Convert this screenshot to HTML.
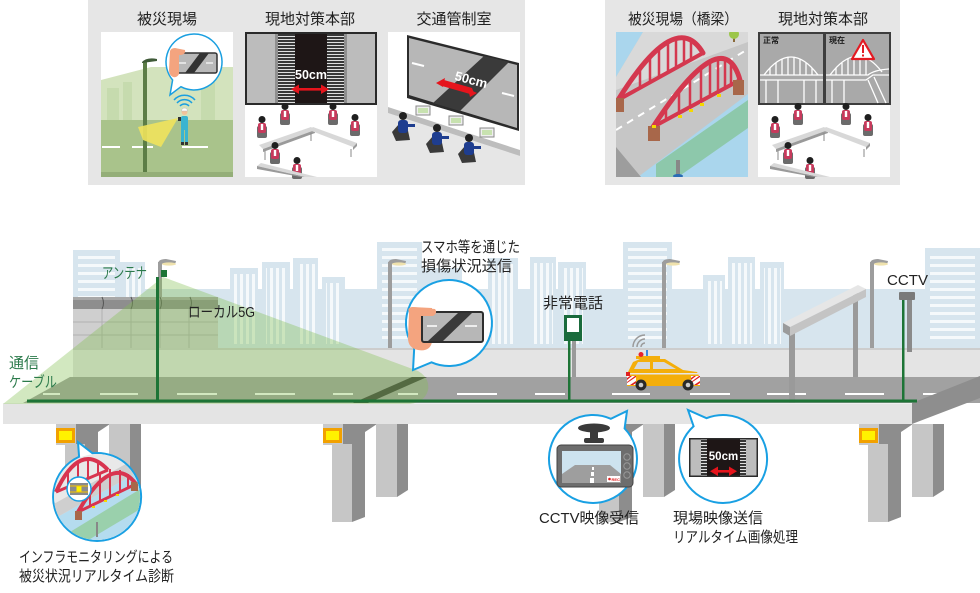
<!DOCTYPE html>
<html><head><meta charset="utf-8">
<style>
html,body{margin:0;padding:0;background:#fff;width:980px;height:593px;overflow:hidden}
svg{display:block}
text{font-family:"Liberation Sans","Noto Sans CJK JP",sans-serif}
</style></head><body>
<svg xmlns="http://www.w3.org/2000/svg" width="980" height="593" viewBox="0 0 980 593">
<defs>
<pattern id="hs" width="8" height="8" patternUnits="userSpaceOnUse"><rect width="8" height="3" fill="#f5f9fb"/></pattern>
<pattern id="vs" width="6" height="6" patternUnits="userSpaceOnUse"><rect width="3" height="6" fill="#f5f9fb"/></pattern>
<pattern id="tk" width="4" height="3" patternUnits="userSpaceOnUse"><rect width="4" height="3" fill="#383838"/><rect y="1" width="4" height="1" fill="#e0e0e0"/></pattern>
<clipPath id="cInfra"><circle cx="97" cy="497" r="43"/></clipPath>
<clipPath id="cA"><rect x="0" y="0" width="132" height="145"/></clipPath>
<g id="per">
<rect x="-5" y="-1" width="10" height="12" rx="2" fill="#6b6b6b"/>
<rect x="-4" y="-4" width="8" height="10" rx="2" fill="#c73a5c"/>
<rect x="-1.2" y="-3" width="2.4" height="6" fill="#fff"/>
<circle cy="-7.5" r="3.5" fill="#1f1f1f"/>
</g>
<g id="opr">
<path d="M-10,8 L-3,0 L5,2 L8,16 L-6,17 Z" fill="#3a3a3a"/>
<rect x="-4" y="-4" width="10" height="13" rx="3" fill="#1e3d8f"/>
<rect x="4" y="0" width="9" height="3" fill="#1e3d8f"/>
<circle cx="1" cy="-8" r="4" fill="#222"/>
</g>
<g id="conf">
<rect width="132" height="72" fill="#fff"/>
<use href="#per" x="17" y="22"/>
<use href="#per" x="40" y="9"/>
<use href="#per" x="88" y="9"/>
<use href="#per" x="110" y="20"/>
<polygon points="14,40 66,22 70,25 18,44" fill="#d8d8d8"/>
<polygon points="18,44 70,25 70,28 18,47" fill="#9a9a9a"/>
<polygon points="68,22 112,38 108,42 64,25" fill="#d8d8d8"/>
<polygon points="108,42 112,38 112,41 108,45" fill="#9a9a9a"/>
<g stroke="#8a8a8a" stroke-width="1"><line x1="20" y1="46" x2="20" y2="55"/><line x1="66" y1="28" x2="66" y2="36"/><line x1="106" y1="44" x2="106" y2="52"/></g>
<use href="#per" x="30" y="48"/>
<use href="#per" x="52" y="63"/>
<polygon points="16,58 72,72 60,72 12,61" fill="#d8d8d8"/>
<polygon points="12,61 60,72 56,72 12,64" fill="#9a9a9a"/>
</g>
</defs>

<rect width="980" height="593" fill="#fff"/>

<!-- ===== TOP PANELS ===== -->
<rect x="88" y="0" width="437" height="185" fill="#e6e6e6"/>
<rect x="605" y="0" width="295" height="185" fill="#e6e6e6"/>
<g font-size="15" fill="#222" text-anchor="middle">
<text x="167" y="24" textLength="60" lengthAdjust="spacingAndGlyphs">被災現場</text>
<text x="310" y="24" textLength="90" lengthAdjust="spacingAndGlyphs">現地対策本部</text>
<text x="454" y="24" textLength="75" lengthAdjust="spacingAndGlyphs">交通管制室</text>
<text x="683" y="24" textLength="110" lengthAdjust="spacingAndGlyphs">被災現場（橋梁）</text>
<text x="823" y="24" textLength="90" lengthAdjust="spacingAndGlyphs">現地対策本部</text>
</g>

<!-- image 1 -->
<g transform="translate(101,32)">
<rect width="132" height="145" fill="#fff"/>
<polygon points="0,48 50,35 132,35 132,88 0,88" fill="#d3e3bd"/>
<g fill="#c6dbae"><rect x="6" y="56" width="12" height="32"/><rect x="22" y="50" width="9" height="38"/><rect x="100" y="42" width="14" height="46"/></g>
<rect y="88" width="132" height="52" fill="#a9c38b"/>
<rect y="140" width="132" height="5" fill="#94ae78"/>
<g fill="#fff"><rect x="1" y="114" width="18" height="2"/><rect x="31" y="114" width="21" height="2"/><rect x="81" y="114" width="26" height="2"/></g>
<rect x="42" y="29" width="4" height="111" fill="#5c7d46"/>
<path d="M41,30 Q46,25 56,27 L56,29 L41,31 Z" fill="#3f5a38"/>
<polygon points="77,86 37,95 42,108 60,115" fill="#efe35c" opacity="0.9"/>
<rect x="80" y="84" width="7" height="14" rx="2" fill="#3bb4d0"/>
<rect x="80" y="97" width="3" height="14" fill="#3bb4d0"/><rect x="84" y="97" width="3" height="14" fill="#3bb4d0"/>
<rect x="80" y="110" width="3" height="3" fill="#333"/><rect x="84" y="110" width="3" height="3" fill="#333"/>
<circle cx="83.5" cy="80" r="3" fill="#f2c29a"/>
<path d="M80.5,79 a3,3 0 0 1 6,0 Z" fill="#fff" stroke="#bbb" stroke-width=".5"/>
<rect x="77" y="85" width="3" height="4" fill="#333"/>
<g fill="none" stroke="#1a9fe0" stroke-width="1.5"><path d="M79,74 a6,6 0 0 1 9,0"/><path d="M76,71 a10,10 0 0 1 15,0"/><path d="M73,68 a14,14 0 0 1 21,0"/></g>
<path d="M79.9,54.7 A28,28 0 1 0 71.6,48 L69,63 Z" fill="#fff" stroke="#1a9fe0" stroke-width="1.5"/>
<rect x="74" y="21" width="42" height="20" rx="2" fill="#b9b9b9" stroke="#333" stroke-width="1.5"/>
<polygon points="84,41 93,41 108,21 99,21" fill="#333"/>
<g stroke="#fff" stroke-width="1.2"><line x1="78" y1="31" x2="85" y2="31"/><line x1="105" y1="31" x2="112" y2="31"/></g>
<path d="M69,19 Q70,16 74,16 L84,18 Q85,22 80,23 L78,23 L78,42 Q76,46 72,45 Q68,43 68,38 Z" fill="#f4a47f"/>
</g>

<!-- image 2 -->
<g transform="translate(245,32)">
<rect width="132" height="73" fill="#2a2a2a"/>
<rect x="2" y="2" width="128" height="69" fill="#bcbcbc"/>
<rect x="30" y="2" width="3" height="69" fill="#8f8f8f"/>
<rect x="99" y="2" width="3" height="69" fill="#8f8f8f"/>
<rect x="33" y="2" width="17" height="69" fill="url(#tk)"/>
<rect x="82" y="2" width="17" height="69" fill="url(#tk)"/>
<rect x="50" y="2" width="32" height="69" fill="#1e1616"/>
<text x="66" y="47" font-size="12.5" font-weight="bold" fill="#fff" text-anchor="middle">50cm</text>
<g fill="#e5141c"><rect x="52" y="56" width="26" height="2.6"/><polygon points="46,57.3 54,52.5 54,62"/><polygon points="84,57.3 76,52.5 76,62"/></g>
<use href="#conf" y="73"/>
</g>

<!-- image 3 -->
<g transform="translate(388,32)">
<rect width="132" height="145" fill="#fff"/>
<polygon points="19,3 131,31 131,99 19,66" fill="#2b2b2b"/>
<polygon points="21,6 129,33 129,96 21,63" fill="#b7b7b7"/>
<polygon points="45,71 72,79 121,30 96,24" fill="#3a3a3a"/>
<g stroke="#fff" stroke-width="2"><line x1="24" y1="31" x2="36" y2="34"/><line x1="114" y1="61" x2="126" y2="64"/></g>
<text transform="translate(82,52) rotate(15)" font-size="13" font-weight="bold" fill="#fff" text-anchor="middle">50cm</text>
<g fill="#e5141c"><polygon points="52,50 56,48 84,56 86,61 82,62 54,54"/><polygon points="48,51 57,46 55,55"/><polygon points="89,61 80,57 82,65"/></g>
<polygon points="0,81 132,124 132,145 0,145" fill="#e6e6e6"/>
<polygon points="0,75 132,118 132,124 0,81" fill="#bdbdbd"/>
<g><rect x="28" y="74" width="14" height="9" fill="#eee" stroke="#888"/><rect x="30" y="76" width="10" height="5" fill="#c8e2b0"/>
<rect x="61" y="84" width="14" height="9" fill="#eee" stroke="#888"/><rect x="63" y="86" width="10" height="5" fill="#c8e2b0"/>
<rect x="92" y="96" width="14" height="9" fill="#eee" stroke="#888"/><rect x="94" y="98" width="10" height="5" fill="#c8e2b0"/></g>
<use href="#opr" x="14" y="92"/>
<use href="#opr" x="48" y="104"/>
<use href="#opr" x="80" y="114"/>
</g>

<!-- image A bridge -->
<g transform="translate(616,32)">
<g clip-path="url(#cA)">
<rect width="132" height="145" fill="#aad6ed"/>
<polygon points="27,0 132,0 132,62 22,145 0,145 0,45" fill="#c6c6c6"/>
<polygon points="27,0 132,0 132,10 0,58 0,45" fill="#d9d9d9"/>
<polygon points="0,115 25,145 0,145" fill="#9d9d9d"/>
<line x1="0" y1="98" x2="132" y2="17" stroke="#fff" stroke-width="2" stroke-dasharray="7 6"/>
<polygon points="40,132 132,68 132,96 62,145 40,145" fill="#6ab85a" opacity="0.45"/>
<g stroke="#d4384f" fill="none" stroke-linecap="round">
<path d="M2,68 Q60,-25 87,21" stroke-width="5"/>
<line x1="2" y1="68" x2="87" y2="21" stroke-width="4"/>
<g stroke-width="2.5"><line x1="24" y1="56" x2="24" y2="36"/><line x1="34" y1="50" x2="34" y2="25"/><line x1="43" y1="45" x2="43" y2="16"/><line x1="52" y1="40" x2="52" y2="10"/><line x1="60" y1="36" x2="60" y2="7"/><line x1="68" y1="31" x2="68" y2="7"/><line x1="75" y1="27" x2="75" y2="9"/></g>
<path d="M37,95 Q107,-12 124,48" stroke-width="5"/>
<line x1="37" y1="95" x2="124" y2="48" stroke-width="4"/>
<g stroke-width="2.5"><line x1="50" y1="88" x2="50" y2="75"/><line x1="63" y1="81" x2="63" y2="59"/><line x1="74" y1="75" x2="74" y2="46"/><line x1="85" y1="69" x2="85" y2="36"/><line x1="94" y1="64" x2="94" y2="30"/><line x1="102" y1="60" x2="102" y2="27"/><line x1="109" y1="56" x2="109" y2="27"/><line x1="115" y1="53" x2="115" y2="31"/></g>
</g>
<rect x="0" y="66" width="8" height="14" fill="#a8674a"/>
<rect x="32" y="94" width="12" height="15" fill="#a8674a"/>
<rect x="117" y="48" width="11" height="15" fill="#a8674a"/>
<g fill="#f5d800"><rect x="62" y="83" width="4" height="3"/><rect x="73" y="77" width="4" height="3"/><rect x="84" y="71" width="4" height="3"/><rect x="101" y="62" width="4" height="3"/><rect x="36" y="93" width="4" height="3"/></g>
<rect x="60" y="128" width="4" height="15" fill="#888"/>
<ellipse cx="62" cy="144" rx="5" ry="2" fill="#2a6cb5"/>
<rect x="117" y="4" width="2" height="6" fill="#8a6a3a"/>
<circle cx="118" cy="2" r="5" fill="#9cc64a"/>
</g>
</g>

<!-- image B -->
<g transform="translate(758,32)">
<rect width="133" height="73" fill="#3d3d3d"/>
<rect x="2" y="2" width="63" height="69" fill="#a9a9a9"/>
<rect x="68" y="2" width="63" height="69" fill="#a9a9a9"/>
<text x="5" y="11" font-size="8" font-weight="bold" fill="#1a1a1a">正常</text>
<text x="71" y="11" font-size="8" font-weight="bold" fill="#1a1a1a">現在</text>
<g stroke="#fff" stroke-width="1.3" fill="none">
<path d="M6,43 Q33,7 60,43"/><path d="M2,43 H65 M2,48 H65"/>
<path d="M12,43 V36 M18,43 V31 M24,43 V27 M30,43 V25 M36,43 V25 M42,43 V27 M48,43 V31 M54,43 V36"/>
<path d="M8,48 V71 M20,48 V71 M46,48 V71 M58,48 V71"/>
<path d="M72,43 Q99,7 124,40"/><path d="M68,43 H110 Q116,38 131,37 M68,48 H108 L115,43 H131"/>
<path d="M78,43 V36 M84,43 V31 M90,43 V27 M96,43 V25 M102,43 V25 M108,43 V27"/>
<path d="M74,48 V71 M86,48 V71 M110,48 L120,71 M116,45 L128,71"/>
</g>
<polygon points="105,8 116,27 94,27" fill="#fff" stroke="#e31b23" stroke-width="2.2" stroke-linejoin="round"/>
<rect x="104" y="13" width="2" height="8" fill="#e31b23"/><rect x="104" y="22.5" width="2" height="2" fill="#e31b23"/>
<use href="#conf" y="73"/>
</g>

<!-- ===== MAIN SCENE ===== -->
<!-- skyline -->
<g fill="#d7e5ee">
<rect x="73" y="289" width="907" height="61"/>
<rect x="73" y="250" width="47" height="100"/>
<rect x="120" y="262" width="25" height="88"/>
<rect x="230" y="268" width="28" height="82"/>
<rect x="262" y="262" width="28" height="88"/>
<rect x="293" y="258" width="25" height="92"/>
<rect x="322" y="277" width="23" height="73"/>
<rect x="377" y="242" width="45" height="108"/>
<rect x="422" y="268" width="40" height="82"/>
<rect x="488" y="258" width="30" height="92"/>
<rect x="530" y="257" width="26" height="93"/>
<rect x="558" y="262" width="28" height="88"/>
<rect x="623" y="242" width="49" height="108"/>
<rect x="703" y="275" width="22" height="75"/>
<rect x="728" y="257" width="27" height="93"/>
<rect x="760" y="262" width="24" height="88"/>
<rect x="925" y="248" width="55" height="102"/>
</g>
<rect x="78" y="256" width="37" height="50" fill="url(#hs)"/>
<rect x="124" y="268" width="18" height="38" fill="url(#vs)"/>
<rect x="234" y="274" width="21" height="70" fill="url(#vs)"/>
<rect x="266" y="268" width="21" height="76" fill="url(#vs)"/>
<rect x="297" y="264" width="18" height="80" fill="url(#vs)"/>
<rect x="326" y="283" width="16" height="61" fill="url(#vs)"/>
<rect x="382" y="248" width="35" height="96" fill="url(#hs)"/>
<rect x="492" y="264" width="23" height="80" fill="url(#vs)"/>
<rect x="534" y="263" width="19" height="81" fill="url(#vs)"/>
<rect x="562" y="268" width="21" height="76" fill="url(#vs)"/>
<rect x="628" y="248" width="39" height="96" fill="url(#hs)"/>
<rect x="707" y="281" width="15" height="63" fill="url(#vs)"/>
<rect x="732" y="263" width="20" height="81" fill="url(#vs)"/>
<rect x="764" y="268" width="17" height="76" fill="url(#vs)"/>
<rect x="930" y="254" width="45" height="90" fill="url(#hs)"/>

<!-- street light poles -->
<g fill="#9d9d9d">
<rect x="158" y="262" width="4" height="90"/>
<rect x="388" y="262" width="4" height="88"/>
<rect x="662" y="262" width="4" height="88"/>
<rect x="870" y="262" width="4" height="88"/>
<path d="M158,264 Q158,259 166,259 L176,261 Q176,264 172,264 Z"/>
<path d="M388,264 Q388,259 396,259 L406,261 Q406,264 402,264 Z"/>
<path d="M662,264 Q662,259 670,259 L680,261 Q680,264 676,264 Z"/>
<path d="M870,264 Q870,259 878,259 L888,261 Q888,264 884,264 Z"/>
</g>
<g fill="#efe2ad">
<ellipse cx="169" cy="264" rx="7" ry="1.6"/><ellipse cx="399" cy="264" rx="7" ry="1.6"/>
<ellipse cx="673" cy="264" rx="7" ry="1.6"/><ellipse cx="881" cy="264" rx="7" ry="1.6"/>
</g>

<!-- soundproof wall -->
<rect x="73" y="309" width="145" height="39" fill="#cfcfcf"/>
<g stroke="#b0b0b0" stroke-width="1"><line x1="73" y1="322" x2="218" y2="322"/><line x1="73" y1="335" x2="218" y2="335"/><line x1="102" y1="309" x2="102" y2="348"/><line x1="131" y1="309" x2="131" y2="348"/><line x1="160" y1="309" x2="160" y2="348"/><line x1="189" y1="309" x2="189" y2="348"/></g>
<rect x="73" y="297" width="145" height="12" fill="#8e8e8e"/>
<rect x="73" y="297" width="145" height="3" fill="#a8a8a8"/>
<g fill="none" stroke="#555" stroke-width="1"><path d="M102,297 q3,6 0,12"/><path d="M131,297 q3,6 0,12"/><path d="M160,297 q3,6 0,12"/><path d="M190,297 q3,6 0,12"/></g>

<!-- barrier and road -->
<rect x="73" y="348" width="907" height="29" fill="#e4e4e4"/>
<rect x="73" y="348" width="907" height="2" fill="#cdcdcd"/>
<polygon points="70,377 980,377 980,403 23,403" fill="#a1a1a1"/>
<g fill="#fff">
<rect x="43" y="393" width="17" height="2"/><rect x="100" y="393" width="38" height="2"/><rect x="177" y="393" width="40" height="2"/><rect x="255" y="393" width="40" height="2"/><rect x="333" y="393" width="20" height="2"/><rect x="398" y="393" width="20" height="2"/><rect x="457" y="393" width="40" height="2"/><rect x="535" y="393" width="30" height="2"/><rect x="612" y="393" width="38" height="2"/><rect x="690" y="393" width="40" height="2"/><rect x="767" y="393" width="39" height="2"/><rect x="845" y="393" width="39" height="2"/><rect x="923" y="393" width="35" height="2"/>
</g>
<polygon points="353,403 368,403 427,377 412,377" fill="#3b3b3b"/>

<!-- gantry -->
<rect x="853" y="292" width="5" height="85" fill="#9a9a9a"/>
<rect x="789" y="330" width="6" height="73" fill="#9a9a9a"/>
<polygon points="790,327 866,289 866,297 790,336" fill="#c4c4c4"/>
<polygon points="783,323 858,285 866,289 790,327" fill="#e6e6e6"/>
<polygon points="783,323 790,327 790,336 783,332" fill="#9b9b9b"/>

<!-- CCTV pole -->
<rect x="907" y="300" width="5" height="52" fill="#8a8a8a"/>
<rect x="899" y="292" width="16" height="8" rx="1" fill="#7a7a7a"/>

<!-- emergency phone -->
<rect x="572" y="341" width="4" height="36" fill="#9a9a9a"/>
<rect x="564" y="315" width="18" height="26" fill="#1a6b3c"/>
<rect x="567" y="318" width="12" height="14" fill="#fff"/>

<!-- car -->
<g fill="none" stroke="#9a9a9a" stroke-width="1.5"><path d="M641,347 A4,4 0 0 1 645,343"/><path d="M637,347 A8,8 0 0 1 645,339"/><path d="M633,347 A12,12 0 0 1 645,335"/></g>
<rect x="646" y="350" width="2" height="7" fill="#3c8be0"/>
<rect x="636" y="356" width="24" height="3" fill="#f4ae0a"/>
<circle cx="641" cy="354.5" r="2.5" fill="#e8232d"/>
<polygon points="628,372 633,362 640,359 665,359 683,370 697,372 700,378 700,386 627,386" fill="#f4ae0a"/>
<polygon points="638,362 650,362 650,369 634,369" fill="#d7d9dc"/>
<polygon points="653,362 664,362 676,369 653,369" fill="#d7d9dc"/>
<rect x="630" y="373" width="68" height="1.5" fill="#e6e6e6"/>
<g><rect x="627" y="376" width="9" height="9" fill="#fff"/><path d="M627,378 l3,-2 h2 l-5,4 Z M627,382 l8,-6 h1 v1 l-9,6 Z M630,385 l6,-4 v2 l-3,2 Z" fill="#e02020"/>
<rect x="691" y="376" width="9" height="9" fill="#fff"/><path d="M691,378 l3,-2 h2 l-5,4 Z M691,382 l8,-6 h1 v1 l-9,6 Z M694,385 l6,-4 v2 l-3,2 Z" fill="#e02020"/></g>
<rect x="626" y="372" width="4" height="4" fill="#e02020"/>
<circle cx="641" cy="385" r="5.5" fill="#2a2a2a"/><circle cx="641" cy="385" r="2.3" fill="#ccc"/>
<circle cx="688" cy="385" r="5.5" fill="#2a2a2a"/><circle cx="688" cy="385" r="2.3" fill="#ccc"/>

<!-- deck -->
<rect x="3" y="403" width="909" height="21" fill="#e4e4e4"/>
<rect x="3" y="403" width="909" height="1" fill="#f0f0f0"/>
<polygon points="912,403 980,376 980,398 912,424" fill="#8e8e8e"/>

<!-- piers -->
<g id="pier">
<rect x="323" y="424" width="22" height="21" fill="#c9c9c9"/>
<polygon points="343,424 377,424 365,432 365,517 352,522 352,444 343,444" fill="#8d8d8d"/>
<rect x="332" y="444" width="20" height="78" fill="#c6c6c6"/>
<rect x="376" y="424" width="21" height="73" fill="#c6c6c6"/>
<polygon points="397,424 408,424 408,490 397,497" fill="#8d8d8d"/>
<rect x="323" y="428" width="19" height="15" fill="#f2a100"/>
<rect x="326" y="431" width="13" height="9" fill="#fff200"/>
</g>
<use href="#pier" x="-267"/>
<use href="#pier" x="267"/>
<use href="#pier" x="536"/>

<!-- green local 5G cone -->
<path d="M163,277 L418,371 Q430,378 428,390 Q425,402 410,404 L3,404 Z" fill="rgb(130,190,80)" fill-opacity="0.36"/>

<!-- cables -->
<g fill="#1d7436">
<rect x="27" y="399.5" width="890" height="3"/>
<rect x="156" y="277" width="3" height="124"/>
<rect x="161" y="270" width="6" height="7"/>
<rect x="568" y="341" width="2.5" height="60"/>
<rect x="902" y="300" width="2.5" height="101"/>
</g>

<!-- bubble: smartphone -->
<path d="M431.5,362.3 A43,43 0 1 0 414.2,348.3 L413,370 Z" fill="#fff" stroke="#19a0e3" stroke-width="2"/>
<path d="M409,312 Q407,308 412,307 L432,308 L432,342 Q430,352 418,350 Q408,348 408,338 Z" fill="#f4a47f"/>
<rect x="422" y="312" width="61" height="30" rx="2" fill="#b7b7b7" stroke="#2e2e2e" stroke-width="2"/>
<polygon points="428,341 443,341 472,313 458,313" fill="#3a3a3a"/>
<g stroke="#fff" stroke-width="1.5"><line x1="427" y1="326" x2="437" y2="326"/><line x1="465" y1="326" x2="477" y2="326"/></g>
<path d="M412,307 L435,309 Q438,313 433,316 L421,316 Z" fill="#f4a47f"/>

<!-- bubble: infra monitoring -->
<path d="M92.4,453.2 A44,44 0 1 1 79.1,456.8 L78,442 Z" fill="#fff" stroke="#19a0e3" stroke-width="2"/>
<g clip-path="url(#cInfra)">
<rect x="52" y="452" width="90" height="90" fill="#e9e9e9"/>
<polygon points="52,520 142,470 142,542 52,542" fill="#b5dcef"/>
<polygon points="52,505 142,455 142,470 52,520" fill="#cfcfcf"/>
<polygon points="70,532 142,488 142,508 85,542 70,542" fill="#7fc46a" opacity=".5"/>
<g stroke="#d8344f" fill="none">
<path d="M56,492 Q80,440 108,470" stroke-width="4"/><line x1="56" y1="492" x2="108" y2="470" stroke-width="3"/>
<path d="M68,487 V470 M78,483 V461 M88,479 V458 M98,474 V461" stroke-width="2"/>
<path d="M78,512 Q112,452 136,484" stroke-width="4"/><line x1="78" y1="512" x2="136" y2="484" stroke-width="3"/>
<path d="M90,506 V485 M100,501 V474 M110,497 V469 M120,492 V470 M128,488 V474" stroke-width="2"/>
</g>
<rect x="75" y="511" width="7" height="9" fill="#a8674a"/>
<rect x="131" y="482" width="7" height="9" fill="#a8674a"/>
<g fill="#f5d800"><rect x="92" y="506" width="3" height="2"/><rect x="104" y="500" width="3" height="2"/><rect x="116" y="494" width="3" height="2"/></g>
<rect x="96" y="522" width="2" height="15" fill="#888"/>
</g>
<circle cx="79" cy="489" r="12" fill="#fff" stroke="#19a0e3" stroke-width="1.5"/>
<rect x="70" y="483" width="18" height="12" fill="#8a8a8a"/>
<g stroke="#f5c400" stroke-width="1"><line x1="70" y1="486" x2="88" y2="486"/><line x1="70" y1="492" x2="88" y2="492"/></g>
<rect x="76.5" y="486.5" width="5" height="5" fill="#fff200"/>

<!-- bubble: CCTV -->
<path d="M624.6,428.4 A44,44 0 1 1 610.9,418.8 L627,411 Z" fill="#fff" stroke="#19a0e3" stroke-width="2"/>
<ellipse cx="594" cy="428" rx="16" ry="4.5" fill="#3a3a3a"/>
<rect x="590" y="431" width="8" height="9" fill="#3a3a3a"/>
<rect x="584" y="438" width="20" height="5" rx="2" fill="#3a3a3a"/>
<rect x="557" y="445" width="76" height="42" rx="4" fill="#6d6d6d" stroke="#444" stroke-width="1"/>
<rect x="562" y="451" width="59" height="32" fill="#cde3ef"/>
<polygon points="562,483 562,474 575,465 610,465 621,474 621,483" fill="#9e9e9e"/>
<g fill="#fff"><rect x="592" y="467" width="2" height="3"/><rect x="591" y="472" width="3" height="4"/><rect x="590" y="478" width="4" height="5"/></g>
<rect x="607" y="476" width="13" height="6" fill="#fff"/>
<circle cx="609.5" cy="479" r="1.3" fill="#e02020"/>
<text x="611.5" y="481" font-size="4" fill="#e02020" font-weight="bold">REC</text>
<g fill="#6d6d6d" stroke="#999" stroke-width="1"><circle cx="627" cy="457" r="3.2"/><circle cx="627" cy="466" r="3.2"/><circle cx="627" cy="475" r="3.2"/></g>

<!-- bubble: 50cm -->
<path d="M706.5,418.2 A44,44 0 1 1 693.6,426.3 L688,410 Z" fill="#fff" stroke="#19a0e3" stroke-width="2"/>
<rect x="689" y="438" width="69" height="39" fill="#2b2b2b"/>
<rect x="690.5" y="439.5" width="66" height="36" fill="#bdbdbd"/>
<rect x="701" y="439.5" width="6" height="36" fill="url(#tk)"/>
<rect x="740" y="439.5" width="6" height="36" fill="url(#tk)"/>
<rect x="707" y="439.5" width="33" height="36" fill="#1e1616"/>
<text x="723.5" y="460" font-size="11.5" font-weight="bold" fill="#fff" text-anchor="middle">50cm</text>
<g fill="#e5141c"><rect x="716" y="470" width="15" height="2.6"/><polygon points="710,471.3 718,466.5 718,476"/><polygon points="737,471.3 729,466.5 729,476"/></g>

<!-- labels -->
<g font-size="15" fill="#222">
<text x="102" y="278" fill="#2b7a4b" textLength="45" lengthAdjust="spacingAndGlyphs">アンテナ</text>
<text x="188" y="317" textLength="67" lengthAdjust="spacingAndGlyphs">ローカル5G</text>
<text x="9" y="368" fill="#2b7a4b" textLength="30" lengthAdjust="spacingAndGlyphs">通信</text>
<text x="9" y="387" fill="#2b7a4b" textLength="48" lengthAdjust="spacingAndGlyphs">ケーブル</text>
<text x="421" y="252" textLength="99" lengthAdjust="spacingAndGlyphs">スマホ等を通じた</text>
<text x="421" y="271" textLength="91" lengthAdjust="spacingAndGlyphs">損傷状況送信</text>
<text x="543" y="308" textLength="60" lengthAdjust="spacingAndGlyphs">非常電話</text>
<text x="887" y="285" textLength="41" lengthAdjust="spacingAndGlyphs">CCTV</text>
<text x="19" y="562" textLength="154" lengthAdjust="spacingAndGlyphs">インフラモニタリングによる</text>
<text x="19" y="581" textLength="155" lengthAdjust="spacingAndGlyphs">被災状況リアルタイム診断</text>
<text x="539" y="523" textLength="100" lengthAdjust="spacingAndGlyphs">CCTV映像受信</text>
<text x="673" y="523" textLength="90" lengthAdjust="spacingAndGlyphs">現場映像送信</text>
<text x="673" y="542" textLength="125" lengthAdjust="spacingAndGlyphs">リアルタイム画像処理</text>
</g>
</svg>
</body></html>
